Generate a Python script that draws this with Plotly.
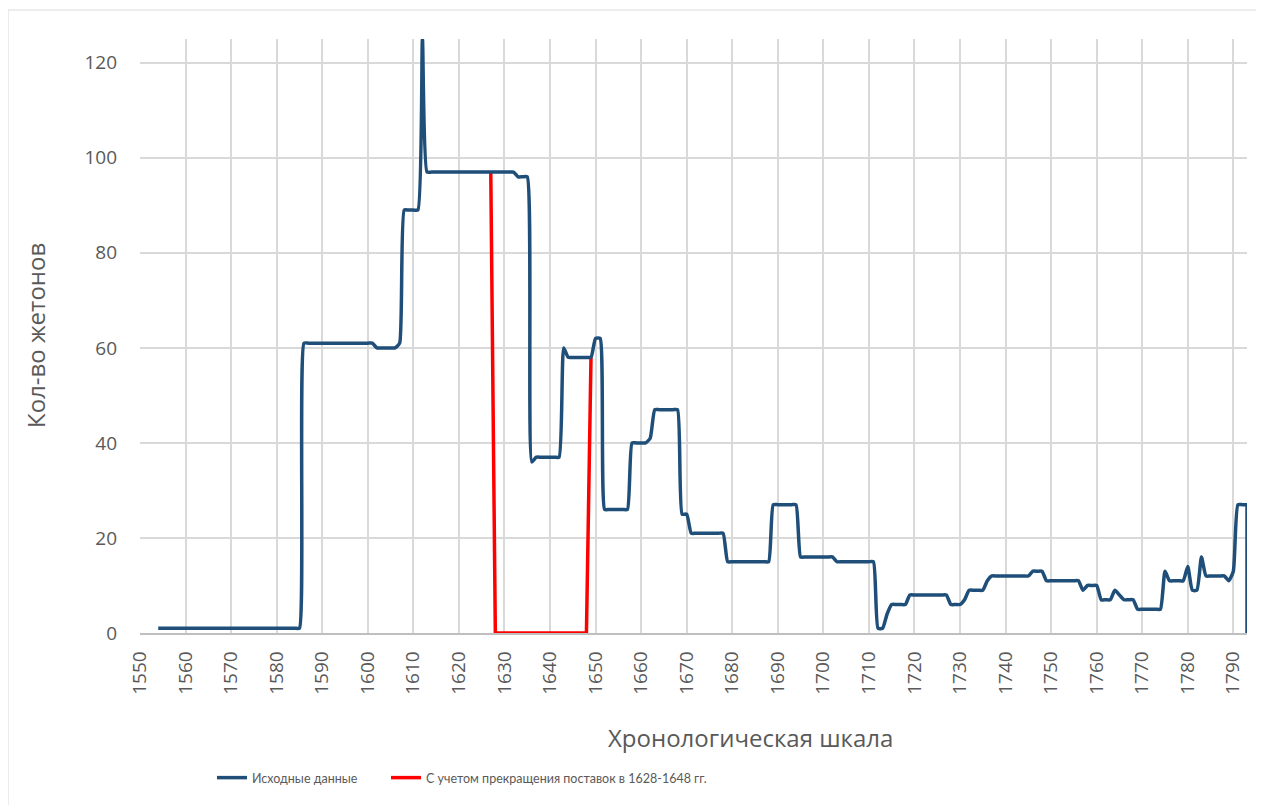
import plotly.graph_objects as go

# ---- data ----
years = list(range(1554, 1794))
counts = [
    # 1554-1559
    1, 1, 1, 1, 1, 1,
    # 1560-1569
    1, 1, 1, 1, 1, 1, 1, 1, 1, 1,
    # 1570-1579
    1, 1, 1, 1, 1, 1, 1, 1, 1, 1,
    # 1580-1589
    1, 1, 1, 1, 1, 1, 61, 61, 61, 61,
    # 1590-1599
    61, 61, 61, 61, 61, 61, 61, 61, 61, 61,
    # 1600-1609
    61, 61, 60, 60, 60, 60, 60, 61, 89, 89,
    # 1610-1619
    89, 89, 125, 97, 97, 97, 97, 97, 97, 97,
    # 1620-1629
    97, 97, 97, 97, 97, 97, 97, 97, 97, 97,
    # 1630-1639
    97, 97, 97, 96, 96, 96, 36, 37, 37, 37,
    # 1640-1649
    37, 37, 37, 60, 58, 58, 58, 58, 58, 58,
    # 1650-1659
    62, 62, 26, 26, 26, 26, 26, 26, 40, 40,
    # 1660-1669
    40, 40, 41, 47, 47, 47, 47, 47, 47, 25,
    # 1670-1679
    25, 21, 21, 21, 21, 21, 21, 21, 21, 15,
    # 1680-1689
    15, 15, 15, 15, 15, 15, 15, 15, 15, 27,
    # 1690-1699
    27, 27, 27, 27, 27, 16, 16, 16, 16, 16,
    # 1700-1709
    16, 16, 16, 15, 15, 15, 15, 15, 15, 15,
    # 1710-1719
    15, 15, 1, 1, 4, 6, 6, 6, 6, 8,
    # 1720-1729
    8, 8, 8, 8, 8, 8, 8, 8, 6, 6,
    # 1730-1739
    6, 7, 9, 9, 9, 9, 11, 12, 12, 12,
    # 1740-1749
    12, 12, 12, 12, 12, 12, 13, 13, 13, 11,
    # 1750-1759
    11, 11, 11, 11, 11, 11, 11, 9, 10, 10,
    # 1760-1769
    10, 7, 7, 7, 9, 8, 7, 7, 7, 5,
    # 1770-1779
    5, 5, 5, 5, 5, 13, 11, 11, 11, 11,
    # 1780-1789
    14, 9, 9, 16, 12, 12, 12, 12, 12, 11,
    # 1790-1793
    13, 27, 27, 27,
]
# final drop of the original series at the right edge
end_years = [1793, 1793]
end_counts = [27, 0]

gap_years = list(range(1627, 1650))
gap_counts = [97] + [0] * 21 + [58]

x_ticks = list(range(1550, 1800, 10))
y_ticks = [0, 20, 40, 60, 80, 100, 120]

BLUE = "#1F4E79"
RED = "#FF0000"
GRID = "#D9D9D9"
AXIS = "#BFBFBF"
TXT = "#595959"

# page body has an 8px margin; plot area wanted at x 140..1247, y 39..633 in the window
PW, PH = 1107, 594
PL, PB = 140, 633

fig = go.Figure()
fig.add_trace(go.Scatter(
    x=gap_years, y=gap_counts, mode="lines",
    name="С учетом прекращения поставок в 1628-1648 гг.",
    line=dict(color=RED, width=3.5), legend="legend2",
))
fig.add_trace(go.Scatter(
    x=end_years, y=end_counts, mode="lines", showlegend=False, hoverinfo="skip",
    line=dict(color=BLUE, width=3.5),
))
fig.add_trace(go.Scatter(
    x=years, y=counts, mode="lines",
    name="Исходные данные",
    line=dict(color=BLUE, width=3.5, shape="spline", smoothing=0.5),
    legend="legend",
))

legend_font = dict(family="Lato, Open Sans", size=12.5, color=TXT)

fig.update_layout(
    width=1264, height=805,
    margin=dict(l=132, r=25, t=31, b=180),
    paper_bgcolor="white", plot_bgcolor="white",
    font=dict(family="Open Sans, sans-serif", color=TXT),
    showlegend=True,
    legend=dict(
        orientation="h", x=(212 - PL) / PW, y=(PB - 778) / PH,
        xanchor="left", yanchor="middle", font=legend_font, itemwidth=30,
    ),
    legend2=dict(
        orientation="h", x=(386 - PL) / PW, y=(PB - 778) / PH,
        xanchor="left", yanchor="middle", font=legend_font, itemwidth=30,
    ),
    xaxis=dict(
        range=[1550, 1793], tickmode="array", tickvals=x_ticks,
        ticktext=[str(v) for v in x_ticks], tickangle=-90,
        showgrid=True, gridcolor=GRID, gridwidth=1.5,
        showline=True, linecolor=AXIS, linewidth=1.5,
        zeroline=False, ticks="", ticklabelstandoff=9,
        tickfont=dict(size=19, color=TXT),
    ),
    yaxis=dict(
        range=[0, 125], tickmode="array", tickvals=y_ticks,
        showgrid=True, gridcolor=GRID, gridwidth=1.5,
        showline=False, zeroline=False, ticks="", ticklabelstandoff=22,
        tickfont=dict(size=19, color=TXT),
    ),
    annotations=[
        dict(text="Хронологическая шкала", xref="paper", yref="paper",
             x=(750 - PL) / PW, y=(PB - 737) / PH, xanchor="center", yanchor="middle",
             showarrow=False, font=dict(size=24, color=TXT)),
        dict(text="Кол-во жетонов", xref="paper", yref="paper",
             x=(35 - PL) / PW, y=0.5, xanchor="center", yanchor="middle", textangle=-90,
             showarrow=False, font=dict(size=24, color=TXT)),
    ],
    shapes=[
        dict(type="line", xref="paper", yref="paper",
             x0=(8 - PL) / PW, x1=(8 - PL) / PW, y0=(PB - 10) / PH, y1=(PB - 805) / PH,
             line=dict(color=GRID, width=1)),
        dict(type="line", xref="paper", yref="paper",
             x0=(8 - PL) / PW, x1=(1272 - PL) / PW, y0=(PB - 10) / PH, y1=(PB - 10) / PH,
             line=dict(color=GRID, width=1)),
    ],
)

fig.write_html("out.html")
